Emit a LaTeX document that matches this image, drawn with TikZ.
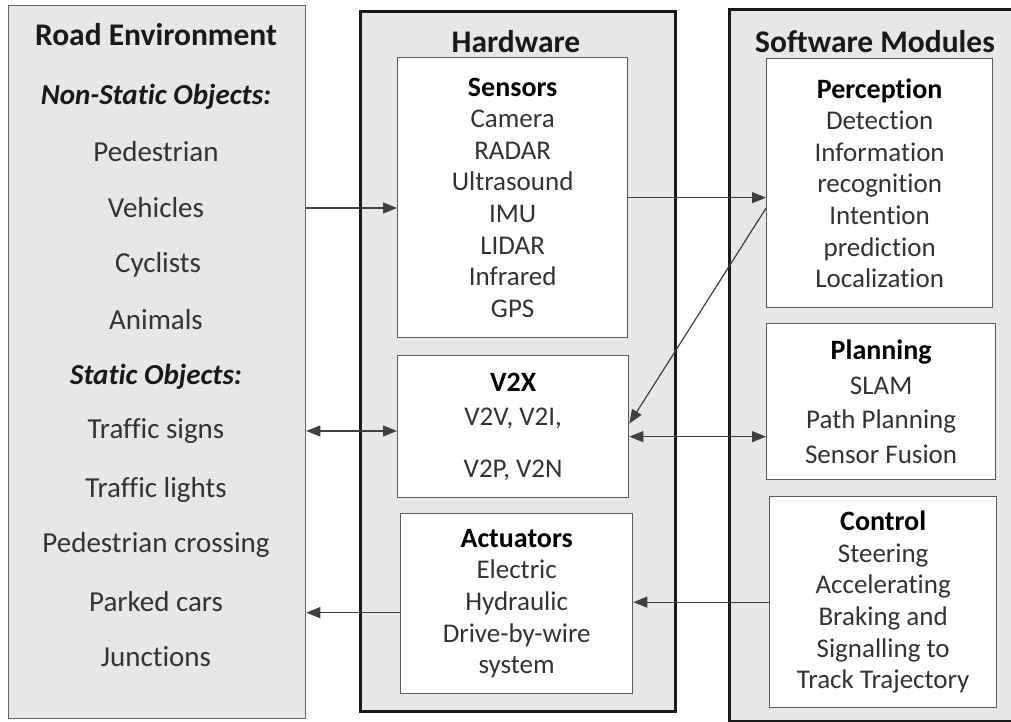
\documentclass[tikz,border=0pt]{standalone}
\usepackage{fontspec}
\setmainfont[Ligatures=NoCommon]{Carlito}
\usetikzlibrary{arrows.meta}
\definecolor{panelgray}{HTML}{E8E6E6}
\definecolor{itemtext}{HTML}{333333}
\newcommand\boxhead[1]{\textcolor{black}{\fontsize{28}{31.6}\selectfont\bfseries #1}}

\begin{document}
\begin{tikzpicture}[x=1pt,y=-1pt,
        font=\fontsize{27}{31.6}\selectfont,
        panel/.style={draw=#1,fill=panelgray,anchor=north west,inner sep=0pt},
        box/.style={draw=black!65,line width=1.3pt,fill=white,align=center,text=itemtext,inner sep=0pt,anchor=north west},
        item/.style={font=\fontsize{29}{33}\selectfont,text=itemtext},
        sub/.style={font=\fontsize{29}{33}\selectfont\bfseries\itshape,text=black!90},
        head/.style={font=\fontsize{31.5}{36}\selectfont\bfseries,text=black!90},
        arr/.style={-{Triangle[length=14pt,width=11pt]},line width=1.2pt,draw=black!75},
        darr/.style={{Triangle[length=14pt,width=11pt]}-{Triangle[length=14pt,width=11pt]},line width=1.2pt,draw=black!75}]
        \useasboundingbox(0,0)rectangle(1011,722);
        \clip(0,0)rectangle(1011,722);

        % the three columns
        \node[panel=black!60,line width=1.3pt,minimum width=297pt,minimum height=713pt](road)at(8,5){};
        \node[panel=black!90,line width=2.8pt,minimum width=315pt,minimum height=700pt](hw)at(359,10){};
        \node[panel=black!90,line width=2.8pt,minimum width=290pt,minimum height=712pt](sw)at(728,8){};

        % road environment
        \node[head](roadtitle)at(156,35){Road Environment};
        \node[sub](nonstatic)at(156,97){Non-Static Objects:};
        \node[item](ped)at(156,152){Pedestrian};
        \node[item](veh)at(156,208){Vehicles};
        \node[item](cyc)at(158,265){Cyclists};
        \node[item](ani)at(156,320){Animals};
        \node[sub](static)at(156,377){Static Objects:};
        \node[item](tsigns)at(156,431){Traffic signs};
        \node[item](tlights)at(156,490){Traffic lights};
        \node[item](pcross)at(156,545){Pedestrian crossing};
        \node[item](parked)at(156,602){Parked cars};
        \node[item](junc)at(156,657){Junctions};

        % hardware
        \node[head](hwtitle)at(516,42){Hardware};
        \node[box,minimum width=230pt,minimum height=280pt](sens)at(397,57)
            {\boxhead{Sensors}\\Camera\\RADAR\\Ultrasound\\IMU\\LIDAR\\Infrared\\GPS};
        \node[box,minimum width=231pt,minimum height=142pt](v2x)at(397,355)
            {\boxhead{V2X}\\[3pt]V2V, V2I,\\[20pt]V2P, V2N};
        \node[box,minimum width=232pt,minimum height=180pt](act)at(400,513)
            {\boxhead{Actuators}\\Electric\\Hydraulic\\Drive-by-wire\\system};

        % software modules
        \node[head](swtitle)at(875,42){Software Modules};
        \node[box,minimum width=226pt,minimum height=249pt](perc)at(766,58)
            {\boxhead{Perception}\\Detection\\Information\\recognition\\Intention\\prediction\\Localization};
        \node[box,minimum width=229pt,minimum height=156pt](plan)at(766,323)
            {\boxhead{Planning}\\[3pt]SLAM\\[3pt]Path Planning\\[3pt]Sensor Fusion};
        \node[box,minimum width=227pt,minimum height=211pt](ctrl)at(769,496)
            {\boxhead{Control}\\Steering\\Accelerating\\Braking and\\Signalling to\\Track Trajectory};

        % links
        \draw[arr](road.east|-veh)--(sens.west|-veh);
        \draw[darr](road.east|-tsigns)--(v2x.west|-tsigns);
        \draw[arr]([yshift=-9pt]act.west)--([yshift=-9pt]road.east|-act.west);
        \draw[arr](sens.east)--(perc.west|-sens.east);
        \draw[arr]([yshift=-25pt]perc.west)--([yshift=3pt]v2x.east);
        \draw[darr]([yshift=-10pt]v2x.east)--([yshift=-10pt]plan.west|-v2x.east);
        \draw[arr](ctrl.west)--(act.east|-ctrl.west);
    \end{tikzpicture}
\end{document}
